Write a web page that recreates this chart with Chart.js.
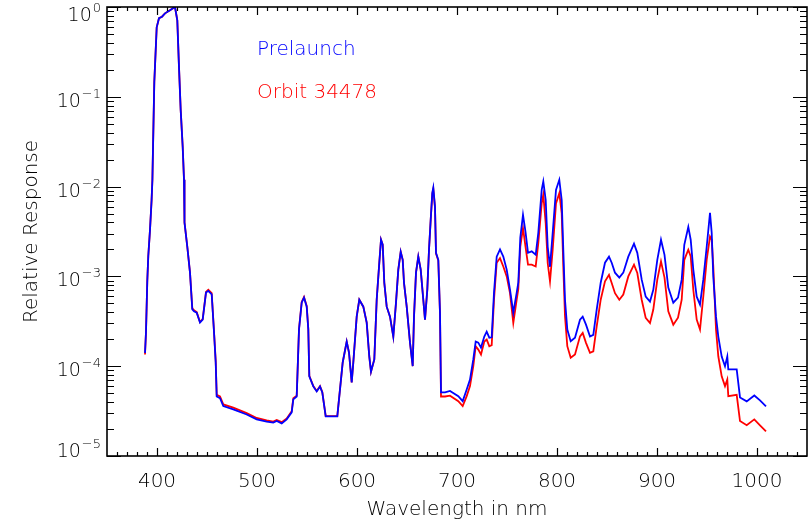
<!DOCTYPE html>
<html>
<head>
<meta charset="utf-8">
<script src="https://cdn.jsdelivr.net/npm/chart.js@4.4.1/dist/chart.umd.min.js"></script>
<style>
  html, body { margin: 0; padding: 0; background: #fff; }
</style>
</head>
<body>
<canvas id="grafica" width="810" height="525"></canvas>
<script>
// --- DATOS ---
const wavelength = [
  388, 389, 390.3, 391.3, 393, 394.6, 395.4, 396.3, 397.3, 399.7, 402, 405, 408, 413, 416, 418,
  420.3, 422, 423.7, 425.7, 427, 427.5, 430.3, 433, 435.3, 437, 439.7, 443, 445.7, 449, 451.3, 454.7,
  457, 458.7, 459.7, 463, 466.3, 476.3, 489.7, 499.7, 509.7, 516.3, 519.7, 524.7, 529.7, 534.7,
  536.3, 539.7, 540.3, 542, 544.7, 547, 549.7, 551.3, 552.3, 556.3, 559.7, 563, 565.3, 568.7,
  580.3, 582, 585.7, 589.7, 592, 594.7, 596.3, 599.7, 602.3, 606.3, 609.7, 612.3, 614, 617.3,
  619.7, 622.3, 624, 625.7, 627.3, 629.7, 633, 636.3, 639, 641.3, 643.7, 645.7, 647, 649.7,
  653, 655.7, 657, 659, 661.3, 663.7, 666.3, 668, 670.3, 672, 673.7, 675.3, 676.3, 678, 679,
  681.3, 683, 684, 688, 693, 701.3, 705.7, 709.7, 713, 716.3, 718.7, 721.3, 724, 727.3, 729.7,
  732.3, 734.7, 737, 739.7, 743, 746.3, 749.7, 753, 756.3, 759.7, 761.3, 763.3, 766, 768.5,
  771, 774.7, 778.7, 781.3, 784.7, 786.3, 788.7, 790.7, 793, 795.7, 799, 802.3, 804.7, 806.3,
  808, 810.3, 813.7, 818, 823, 825.7, 829, 833, 836.3, 839.7, 843.7, 848, 852, 854.7, 858,
  862.3, 866.3, 871.3, 877, 880.3, 884.7, 888.7, 893, 896.3, 900.3, 904, 907.5, 911.3, 916.3,
  921, 924.7, 927.3, 931.3, 933.7, 936.3, 939.7, 943, 946.3, 949.7, 953, 954.7, 956.3, 959,
  961.3, 964.7, 968, 970.3, 971.3, 979.7, 983, 989.7, 997.3, 1003, 1009
];

const prelaunch = [
  1.4e-4, 2.4e-4, 9.0e-4, 1.7e-3, 3.3e-3, 7.1e-3, 1.19e-2, 3.95e-2, 0.146, 0.594, 0.75, 0.78, 0.85, 0.92, 0.97, 1.0,
  0.71, 0.214, 0.071, 0.0276, 0.0119, 4.0e-3, 2.14e-3, 1.1e-3, 4.3e-4, 4.1e-4, 3.95e-4, 3.06e-4, 3.3e-4, 6.6e-4, 6.9e-4, 6.3e-4,
  2.4e-4, 1.1e-4, 4.6e-5, 4.4e-5, 3.6e-5, 3.3e-5, 2.9e-5, 2.56e-5, 2.41e-5, 2.35e-5, 2.45e-5, 2.31e-5, 2.56e-5, 3.06e-5,
  4.27e-5, 4.6e-5, 7.1e-5, 2.56e-4, 5.1e-4, 5.8e-4, 4.6e-4, 2.56e-4, 7.7e-5, 5.95e-5, 5.24e-5, 5.95e-5, 5.1e-5, 2.76e-5,
  2.76e-5, 4.27e-5, 1.1e-4, 1.88e-4, 1.42e-4, 6.6e-5, 1.1e-4, 3.56e-4, 5.5e-4, 4.6e-4, 3.06e-4, 1.28e-4, 8.7e-5, 1.19e-4,
  5.5e-4, 1.42e-3, 2.56e-3, 2.25e-3, 8.5e-4, 4.6e-4, 3.56e-4, 2.14e-4, 5.1e-4, 1.19e-3, 1.88e-3, 1.53e-3, 8.5e-4, 4.6e-4,
  1.83e-4, 1.0e-4, 3.56e-4, 1.1e-3, 1.66e-3, 1.19e-3, 5.5e-4, 3.3e-4, 7.1e-4, 1.98e-3, 4.27e-3, 8.5e-3, 9.7e-3, 5.95e-3, 1.83e-3,
  1.53e-3, 3.95e-4, 5.1e-5, 5.1e-5, 5.3e-5, 4.64e-5, 4.08e-5, 5.5e-5, 7.1e-5, 1.19e-4, 1.88e-4, 1.83e-4, 1.61e-4, 2.14e-4, 2.43e-4,
  2.08e-4, 2.1e-4, 6.6e-4, 1.66e-3, 2.0e-3, 1.66e-3, 1.19e-3, 7.1e-4, 3.95e-4, 6.6e-4, 8.5e-4, 2.7e-3, 4.85e-3, 3.14e-3,
  1.83e-3, 1.9e-3, 1.74e-3, 3.06e-3, 9.2e-3, 1.14e-2, 7.1e-3, 2.14e-3, 1.28e-3, 3.06e-3, 9.2e-3, 1.19e-2, 7.1e-3, 1.98e-3,
  5.5e-4, 2.56e-4, 1.9e-4, 2.08e-4, 3.3e-4, 3.56e-4, 2.9e-4, 2.14e-4, 2.23e-4, 4.27e-4, 8.5e-4, 1.42e-3, 1.66e-3, 1.42e-3, 1.1e-3,
  9.7e-4, 1.1e-3, 1.66e-3, 2.31e-3, 1.83e-3, 9.2e-4, 5.95e-4, 5.24e-4, 7.1e-4, 1.53e-3, 2.56e-3, 1.74e-3, 7.5e-4, 5.1e-4,
  5.8e-4, 9.2e-4, 2.25e-3, 3.56e-3, 2.56e-3, 1.19e-3, 5.95e-4, 4.85e-4, 9.2e-4, 2.14e-3, 5.1e-3, 3.06e-3, 9.9e-4, 3.56e-4,
  2.14e-4, 1.28e-4, 1.0e-4, 1.28e-4, 9.2e-5, 9.2e-5, 4.49e-5, 4.06e-5, 4.72e-5, 4.16e-5, 3.56e-5
];

const orbit34478 = [
  1.35e-4, 2.4e-4, 9.0e-4, 1.7e-3, 3.3e-3, 7.1e-3, 1.19e-2, 3.95e-2, 0.146, 0.594, 0.75, 0.78, 0.85, 0.92, 0.97, 1.0,
  0.71, 0.214, 0.071, 0.0276, 0.0119, 4.0e-3, 2.14e-3, 1.1e-3, 4.4e-4, 4.2e-4, 4.0e-4, 3.1e-4, 3.35e-4, 6.7e-4, 7.1e-4, 6.5e-4,
  2.45e-4, 1.15e-4, 4.8e-5, 4.6e-5, 3.75e-5, 3.45e-5, 3.0e-5, 2.65e-5, 2.5e-5, 2.42e-5, 2.52e-5, 2.38e-5, 2.62e-5, 3.15e-5,
  4.4e-5, 4.7e-5, 7.2e-5, 2.6e-4, 5.2e-4, 5.9e-4, 4.7e-4, 2.6e-4, 7.8e-5, 6.0e-5, 5.3e-5, 6.0e-5, 5.15e-5, 2.78e-5,
  2.78e-5, 4.3e-5, 1.1e-4, 1.88e-4, 1.42e-4, 6.6e-5, 1.1e-4, 3.56e-4, 5.5e-4, 4.6e-4, 3.06e-4, 1.28e-4, 8.7e-5, 1.19e-4,
  5.5e-4, 1.42e-3, 2.56e-3, 2.25e-3, 8.5e-4, 4.6e-4, 3.56e-4, 2.14e-4, 5.1e-4, 1.19e-3, 1.88e-3, 1.53e-3, 8.5e-4, 4.6e-4,
  1.83e-4, 1.0e-4, 3.56e-4, 1.1e-3, 1.66e-3, 1.19e-3, 5.5e-4, 3.3e-4, 7.1e-4, 1.98e-3, 4.27e-3, 8.3e-3, 9.4e-3, 5.8e-3, 1.8e-3,
  1.5e-3, 3.8e-4, 4.6e-5, 4.6e-5, 4.7e-5, 4.08e-5, 3.6e-5, 4.64e-5, 6.0e-5, 1.0e-4, 1.67e-4, 1.53e-4, 1.35e-4, 1.88e-4, 1.98e-4,
  1.67e-4, 1.72e-4, 5.5e-4, 1.42e-3, 1.6e-3, 1.29e-3, 1.0e-3, 6.5e-4, 3.03e-4, 5.5e-4, 7.2e-4, 2.15e-3, 3.45e-3, 2.15e-3,
  1.35e-3, 1.35e-3, 1.29e-3, 2.35e-3, 6.5e-3, 8.1e-3, 3.92e-3, 1.41e-3, 8.8e-4, 1.98e-3, 6.5e-3, 8.45e-3, 5.06e-3, 1.29e-3,
  3.6e-4, 1.67e-4, 1.24e-4, 1.35e-4, 2.15e-4, 2.35e-4, 1.82e-4, 1.41e-4, 1.46e-4, 2.78e-4, 5.5e-4, 8.8e-4, 1.04e-3, 8.45e-4, 6.5e-4,
  5.5e-4, 6.27e-4, 1.0e-3, 1.35e-3, 1.09e-3, 5.5e-4, 3.45e-4, 3.03e-4, 4.27e-4, 9.2e-4, 1.47e-3, 9.7e-4, 4.09e-4, 2.9e-4,
  3.47e-4, 5.5e-4, 1.53e-3, 1.98e-3, 1.67e-3, 7.1e-4, 3.3e-4, 2.56e-4, 6.0e-4, 1.53e-3, 2.78e-3, 2.56e-3, 1.29e-3, 2.56e-4,
  1.29e-4, 7.7e-5, 6.0e-5, 7.1e-5, 4.64e-5, 4.8e-5, 2.45e-5, 2.2e-5, 2.56e-5, 2.2e-5, 1.88e-5
];

const xTickValues = [400, 500, 600, 700, 800, 900, 1000];
const yExponents = [0, -1, -2, -3, -4, -5];
const xRange = [350, 1050];
const yRange = [1e-5, 1];

const FUENTE = "'DejaVu Sans', 'Liberation Sans', sans-serif";
const PESO = 200;

// --- MARCO, TICKS INTERIORES, ETIQUETAS Y LEYENDA (estilo IDL) ---
const marcoIDL = {
  id: 'marcoIDL',
  afterDraw(chart) {
    const { ctx, chartArea: a, scales: { x, y } } = chart;
    ctx.save();
    ctx.strokeStyle = '#000';
    ctx.lineWidth = 1.6;
    ctx.strokeRect(a.left, a.top, a.right - a.left, a.bottom - a.top);

    // ticks del eje x (arriba y abajo)
    ctx.lineWidth = 1.2;
    ctx.beginPath();
    for (let v = xRange[0] + 10; v < xRange[1]; v += 10) {
      const px = Math.round(x.getPixelForValue(v)) + 0.5;
      const len = v % 100 === 0 ? 8 : 4;
      ctx.moveTo(px, a.bottom); ctx.lineTo(px, a.bottom - len);
      ctx.moveTo(px, a.top); ctx.lineTo(px, a.top + len);
    }
    // ticks del eje y logaritmico (izquierda y derecha)
    yExponents.forEach(e => {
      for (let k = 1; k <= 9; k++) {
        const v = k * Math.pow(10, e);
        if (v > yRange[1] * 1.001) break;
        const py = Math.round(y.getPixelForValue(v)) + 0.5;
        const len = k === 1 ? 14 : 7;
        ctx.moveTo(a.left, py); ctx.lineTo(a.left + len, py);
        ctx.moveTo(a.right, py); ctx.lineTo(a.right - len, py);
      }
    });
    ctx.stroke();

    // etiquetas 10^n
    ctx.fillStyle = '#000';
    ctx.textBaseline = 'alphabetic';
    ctx.textAlign = 'right';
    yExponents.forEach(e => {
      const py = y.getPixelForValue(Math.pow(10, e));
      const base = Math.min(Math.max(py + 10, a.top + 14), a.bottom + 0.5);
      const expo = e === 0 ? '0' : '\u2212' + Math.abs(e);
      ctx.font = `${PESO} 13px ${FUENTE}`;
      const wExp = ctx.measureText(expo).width;
      ctx.fillText(expo, 101, base - 9);
      ctx.font = `${PESO} 19px ${FUENTE}`;
      ctx.fillText('10', 100 - wExp, base);
    });

    // leyenda de texto
    ctx.textAlign = 'left';
    ctx.font = `${PESO} 20px ${FUENTE}`;
    chart.data.datasets.forEach((ds, i) => {
      ctx.fillStyle = ds.borderColor;
      ctx.fillText(ds.label, 257, 55 + i * 43);
    });
    ctx.restore();
  }
};

function puntos(valores) {
  return wavelength.map((w, i) => ({ x: w, y: valores[i] }));
}

new Chart(document.getElementById('grafica'), {
  type: 'line',
  data: {
    datasets: [
      {
        label: 'Prelaunch',
        data: puntos(prelaunch),
        borderColor: '#0000ff',
        borderWidth: 1.8,
        pointRadius: 0,
        tension: 0,
        fill: false
      },
      {
        label: 'Orbit 34478',
        data: puntos(orbit34478),
        borderColor: '#ff0000',
        borderWidth: 1.8,
        pointRadius: 0,
        tension: 0,
        fill: false
      }
    ]
  },
  options: {
    responsive: false,
    animation: false,
    layout: { padding: { top: 7, right: 3, left: 0, bottom: 0 } },
    plugins: {
      legend: { display: false },
      tooltip: { enabled: false }
    },
    scales: {
      x: {
        type: 'linear',
        min: xRange[0],
        max: xRange[1],
        grid: { display: false, drawTicks: false },
        border: { display: false },
        afterBuildTicks: s => { s.ticks = xTickValues.map(v => ({ value: v })); },
        afterFit: s => { s.height = 69; },
        ticks: {
          color: '#000',
          padding: 14,
          maxRotation: 0,
          callback: v => String(v),
          font: { family: FUENTE, size: 20, weight: PESO }
        },
        title: {
          display: true,
          text: 'Wavelength in nm',
          color: '#000',
          font: { family: FUENTE, size: 20, weight: PESO },
          padding: { top: 0, bottom: 3 }
        }
      },
      y: {
        type: 'logarithmic',
        min: yRange[0],
        max: yRange[1],
        grid: { display: false, drawTicks: false },
        border: { display: false },
        ticks: { display: false },
        afterFit: s => { s.width = 107; },
        title: {
          display: true,
          text: 'Relative Response',
          color: '#000',
          font: { family: FUENTE, size: 20, weight: PESO },
          padding: { top: 20, bottom: 0 }
        }
      }
    }
  },
  plugins: [marcoIDL]
});
</script>
</body>
</html>
